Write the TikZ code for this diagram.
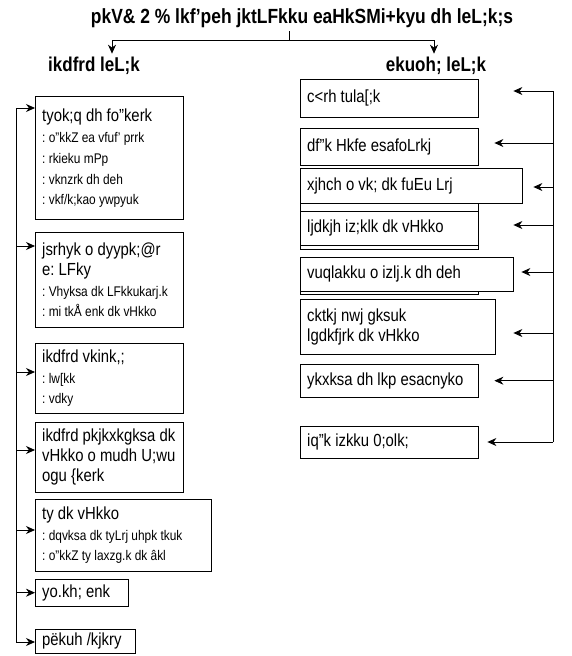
\documentclass[tikz,border=0pt]{standalone}
\usepackage{fontspec}
\setmainfont[FakeStretch=0.85]{Liberation Sans}
\usetikzlibrary{arrows.meta, positioning}
\newcommand{\bigln}{\fontsize{17.5}{20}\selectfont}
\newcommand{\smln}{\fontsize{14}{21}\selectfont}

\begin{document}
\begin{tikzpicture}[x=1pt, y=-1pt,
    box/.style 2 args={draw, fill=white, anchor=north west, align=left, inner xsep=7pt, inner ysep=4pt,
      text width=#1-14pt, minimum height=#2, font=\bigln,
      execute at begin node={\frenchspacing\spaceskip=0pt\xspaceskip=0pt}},
    arr/.style={-{Stealth[length=9pt, width=8pt]}, thick}]
  \useasboundingbox (0,0) rectangle (572,656);

  % headings
  \node[font=\fontsize{20.5}{22}\selectfont\bfseries] (title) at (302,18) {pkV\& 2 \% lkf'peh jktLFkku eaHkSMi+kyu dh leL;k;s};
  \node[font=\fontsize{20}{22}\selectfont\bfseries] (lhead) at (94,66) {ikdfrd leL;k};
  \node[font=\fontsize{20}{22}\selectfont\bfseries] (rhead) at (436,66) {ekuoh; leL;k};
  \coordinate (split) at (289,40);
  \draw (title.south -| split) -- (split);
  \draw[arr] (split) -| ([xshift=18pt]lhead.north);
  \draw[arr] (split) -| ([xshift=-2pt]rhead.north);

  % left column
  \node[box={148pt}{123pt}] (l1) at (35,96) {{\bigln tyok;q dh fo"kerk}\\ \smln : o"kkZ ea vfuf' prrk\\ : rkieku mPp\\ : vknzrk dh deh\\ : vkf/k;kao ywpyuk};
  \node[box={148pt}{95pt}] (l2) at (35,232) {jsrhyk o dyypk;@r\\ e: LFky\\ \smln : Vhyksa dk LFkkukarj.k\\ : mi tkÅ enk dk vHkko};
  \node[box={148pt}{70pt}] (l3) at (35,343) {{\bigln ikdfrd vkink,;}\\ \smln : lw[kk\\ : vdky};
  \node[box={148pt}{70pt}] (l4) at (35,422) {ikdfrd pkjkxkgksa dk\\ vHkko o mudh U;wu\\ ogu \{kerk};
  \node[box={176pt}{72pt}] (l5) at (35,499) {{\bigln ty dk vHkko}\\ \smln : dqvksa dk tyLrj uhpk tkuk\\ : o"kkZ ty laxzg.k dk âkl};
  \node[box={93pt}{27pt}, inner ysep=2pt] (l6) at (35,579) {yo.kh; enk};
  \node[box={100pt}{24pt}, inner ysep=1pt] (l7) at (35,629) {pëkuh /kjkry};

  \coordinate (ltop) at (16,108);
  \coordinate (lbot) at (16,642);
  \draw[semithick] (ltop) -- (lbot);
  \draw[arr] (ltop) -- (ltop -| l1.west);
  \draw[arr] (ltop |- 0,246) -- (l2.west |- 0,246);
  \draw[arr] (ltop |- 0,372) -- (l3.west |- 0,372);
  \draw[arr] (ltop |- 0,450) -- (l4.west |- 0,450);
  \draw[arr] (ltop |- 0,530) -- (l5.west |- 0,530);
  \draw[arr] (ltop |- l6.west) -- (l6.west);
  \draw[arr] (lbot) -- (lbot -| l7.west);

  % right column
  \draw (300,190) rectangle (478,249);
  \draw (300,265) rectangle (478,294);
  \node[box={178pt}{38pt}] (r1) at (300,79) {c<rh tula[;k};
  \node[box={178pt}{37pt}] (r2) at (300,128) {df"k Hkfe esafoLrkj};
  \node[box={222pt}{35pt}] (r3) at (300,168) {xjhch o vk; dk fuEu Lrj};
  \node[box={178pt}{34pt}] (r4) at (300,211) {ljdkjh iz;klk dk vHkko};
  \node[box={213pt}{34pt}] (r5) at (300,257) {vuqlakku o izlj.k dh deh};
  \node[box={195pt}{55pt}] (r6) at (300,299) {cktkj nwj gksuk\\ lgdkfjrk dk vHkko};
  \node[box={178pt}{33pt}] (r7) at (300,364) {ykxksa dh lkp esacnyko};
  \node[box={178pt}{32pt}] (r8) at (300,426) {iq"k izkku 0;olk;};

  \coordinate (rtop) at (553,91);
  \coordinate (rbot) at (553,442);
  \draw[semithick] (rtop) -- (rbot);
  \draw[arr] (rtop) -- ([xshift=35pt]r1.east |- rtop);
  \draw[arr] (rtop |- 0,143) -- ([xshift=16pt]r2.east |- 0,143);
  \draw[arr] (rtop |- 0,187) -- ([xshift=11pt]r3.east |- 0,187);
  \draw[arr] (rtop |- 0,225) -- ([xshift=35pt]r4.east |- 0,225);
  \draw[arr] (rtop |- 0,272) -- ([xshift=8pt]r5.east |- 0,272);
  \draw[arr] (rtop |- 0,333) -- ([xshift=18pt]r6.east |- 0,333);
  \draw[arr] (rtop |- r7.east) -- ([xshift=16pt]r7.east);
  \draw[arr] (rbot) -- ([xshift=9pt]r8.east |- rbot);
\end{tikzpicture}
\end{document}
